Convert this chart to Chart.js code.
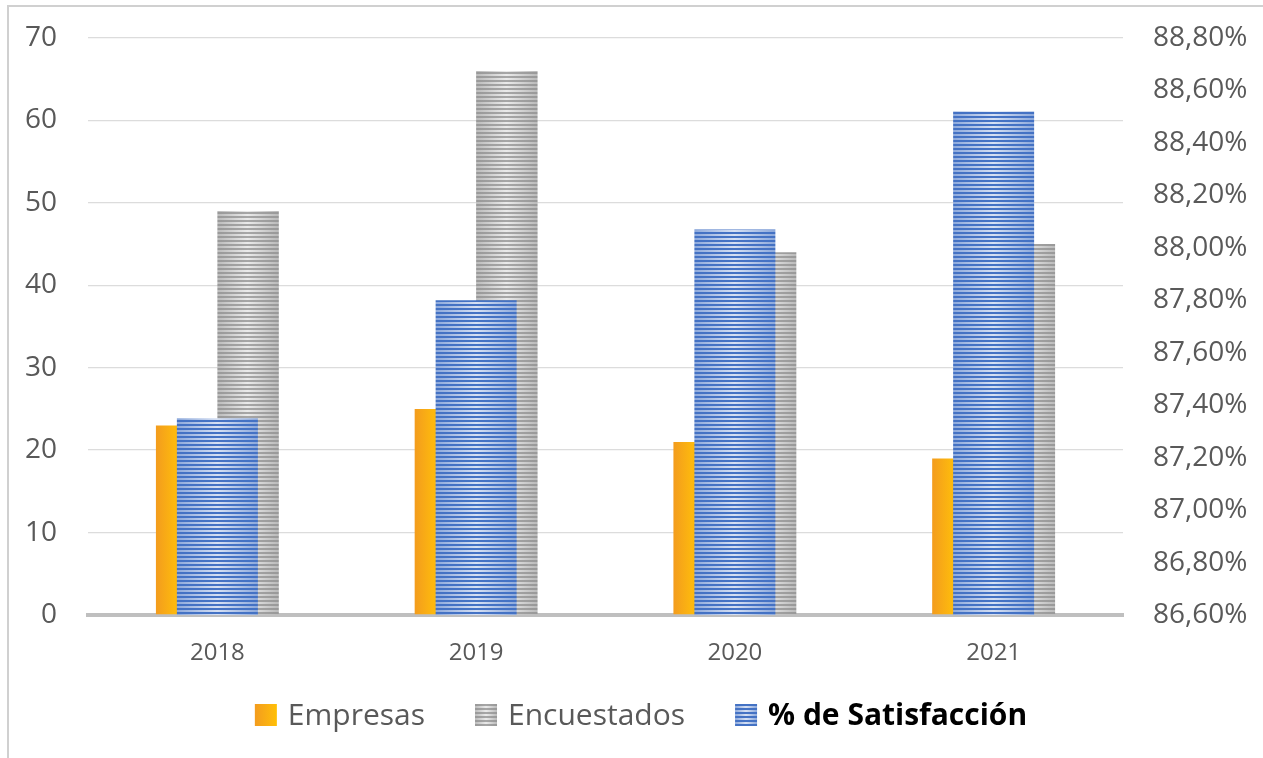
<!DOCTYPE html>
<html>
<head>
<meta charset="utf-8">
<script src="https://cdn.jsdelivr.net/npm/chart.js@4.4.1/dist/chart.umd.min.js"></script>
<style>
  html, body { margin: 0; padding: 0; background: #fff; }
  #wrap { width: 1263px; height: 758px; }
</style>
</head>
<body>
<div id="wrap"><canvas id="grafico" width="1263" height="758"></canvas></div>
<script>
// datos
var anios = ['2018', '2019', '2020', '2021'];
var empresas = [23, 25, 21, 19];
var encuestados = [49, 66, 44, 45];
var satisfaccion = [87.35, 87.80, 88.07, 88.52];
var nombres = ['Empresas', 'Encuestados', '% de Satisfacción'];
var ejeIzq = [0, 70, 10];      // min, max, paso
var ejeDer = [86.6, 88.8, 0.2];

var GRUPO = 0.475;   // ancho del par Empresas/Encuestados
var ANCHO_SAT = 0.313;

Chart.defaults.font.family = "'Open Sans', 'Noto Sans', sans-serif";
Chart.defaults.color = '#595959';

// relleno de cada barra (degradado o rayas horizontales)
function makeFill(ctx, kind, left, width, corto) {
  if (kind === 'emp') {
    var g = ctx.createLinearGradient(left, 0, left + width, 0);
    g.addColorStop(0, '#F39C1E');
    g.addColorStop(corto ? 0.8 : 0.3, '#FDB80E');
    g.addColorStop(1, '#FFC000');
    return g;
  }
  var w = Math.max(1, Math.round(width));
  var c = document.createElement('canvas');
  c.width = w; c.height = 4;
  var p = c.getContext('2d');
  var col = kind === 'sat'
    ? ['#4472C4', '#D6E0F3', '68,114,196']
    : ['#A6A6A6', '#EAEAEA', '140,140,140'];
  p.fillStyle = col[1]; p.fillRect(0, 0, w, 4);
  p.fillStyle = col[0]; p.fillRect(0, 0, w, 2);
  var g2 = p.createLinearGradient(0, 0, w, 0);
  g2.addColorStop(0, 'rgba(' + col[2] + ',0.5)');
  g2.addColorStop(0.5, 'rgba(' + col[2] + ',0)');
  g2.addColorStop(1, 'rgba(' + col[2] + ',0.5)');
  p.fillStyle = g2; p.fillRect(0, 0, w, 4);
  var pat = ctx.createPattern(c, 'repeat');
  pat.setTransform(new DOMMatrix([1, 0, 0, 1, Math.round(left), 0]));
  return pat;
}

function barFill(kind, plano) {
  return function(c) {
    var chart = c.chart;
    if (!chart.chartArea || c.dataIndex === undefined) return plano;
    var xs = chart.scales.x;
    var centro = xs.getPixelForValue(c.dataIndex);
    var paso = xs.width / anios.length;
    var left, width;
    if (kind === 'emp') { width = paso * GRUPO / 2; left = centro - width; }
    else if (kind === 'enc') { width = paso * GRUPO / 2; left = centro; }
    else { width = paso * ANCHO_SAT; left = centro - width / 2; }
    return makeFill(chart.ctx, kind, left, width, false);
  };
}

var marco = {
  id: 'marco',
  beforeDraw: function(chart) {
    var ctx = chart.ctx;
    ctx.save();
    ctx.fillStyle = '#fff';
    ctx.fillRect(0, 0, chart.width, chart.height);
    ctx.strokeStyle = '#D0D0D0';
    ctx.lineWidth = 2;
    ctx.strokeRect(8, 6, chart.width + 20, chart.height + 20);
    ctx.restore();
  }
};

var leyenda = {
  id: 'leyenda',
  afterDraw: function(chart) {
    var ctx = chart.ctx;
    var items = [
      { text: nombres[0], kind: 'emp', font: "30px 'Open Sans'", color: '#595959' },
      { text: nombres[1], kind: 'enc', font: "30px 'Open Sans'", color: '#595959' },
      { text: nombres[2], kind: 'sat', font: "bold 30px 'Open Sans'", color: '#000000' }
    ];
    var box = 22, gapTxt = 11, gapItem = 50, base = 725;
    ctx.save();
    var total = 0;
    items.forEach(function(it, i) {
      ctx.font = it.font;
      it.w = ctx.measureText(it.text).width;
      total += box + gapTxt + it.w + (i > 0 ? gapItem : 0);
    });
    var x = 641 - total / 2;
    items.forEach(function(it) {
      ctx.fillStyle = makeFill(ctx, it.kind, x, box, true);
      ctx.fillRect(x, base - 21, box, box);
      ctx.font = it.font;
      ctx.fillStyle = it.color;
      ctx.textBaseline = 'alphabetic';
      ctx.textAlign = 'left';
      ctx.fillText(it.text, x + box + gapTxt, base);
      x += box + gapTxt + it.w + gapItem;
    });
    ctx.restore();
  }
};

// los ejes verticales no deben empujar el area del grafico
function ajusteVertical(ancho) {
  return function(s) {
    s.width = ancho;
    s.paddingTop = 0;
    s.paddingBottom = 0;
  };
}

var ctx = document.getElementById('grafico');

var grafico = new Chart(ctx, {
  type: 'bar',
  data: {
    labels: anios,
    datasets: [
      {
        label: nombres[0],
        data: empresas,
        yAxisID: 'y',
        order: 1,
        backgroundColor: barFill('emp', '#F7A516'),
        categoryPercentage: GRUPO,
        barPercentage: 1
      },
      {
        label: nombres[1],
        data: encuestados,
        yAxisID: 'y',
        order: 2,
        backgroundColor: barFill('enc', '#BFBFBF'),
        categoryPercentage: GRUPO,
        barPercentage: 1
      },
      {
        label: nombres[2],
        data: satisfaccion,
        yAxisID: 'y1',
        order: 0,
        grouped: false,
        backgroundColor: barFill('sat', '#4472C4'),
        categoryPercentage: ANCHO_SAT,
        barPercentage: 1
      }
    ]
  },
  options: {
    responsive: false,
    animation: false,
    layout: { padding: { top: 38, left: 0, right: 0, bottom: 0 } },
    plugins: {
      legend: { display: false },
      tooltip: { enabled: false }
    },
    scales: {
      x: {
        z: 1,
        grid: { display: false, drawTicks: false },
        border: { display: true, color: '#BFBFBF', width: 4 },
        ticks: { font: { size: 24 }, color: '#595959', padding: 24 },
        afterFit: function(s) { s.height = 143; }
      },
      y: {
        position: 'left',
        min: ejeIzq[0],
        max: ejeIzq[1],
        ticks: { stepSize: ejeIzq[2], font: { size: 28 }, color: '#595959', padding: 31 },
        grid: {
          drawTicks: false,
          color: function(c) { return c.tick && c.tick.value === 0 ? 'rgba(0,0,0,0)' : '#DCDCDC'; },
          lineWidth: 1.3
        },
        border: { display: false },
        afterFit: ajusteVertical(88)
      },
      y1: {
        position: 'right',
        min: ejeDer[0],
        max: ejeDer[1],
        ticks: {
          stepSize: ejeDer[2],
          font: { size: 28 },
          color: '#595959',
          padding: 30,
          callback: function(v) { return v.toFixed(2).replace('.', ',') + '%'; }
        },
        grid: { drawOnChartArea: false, drawTicks: false },
        border: { display: false },
        afterFit: ajusteVertical(140)
      }
    }
  },
  plugins: [marco, leyenda]
});
</script>
</body>
</html>
